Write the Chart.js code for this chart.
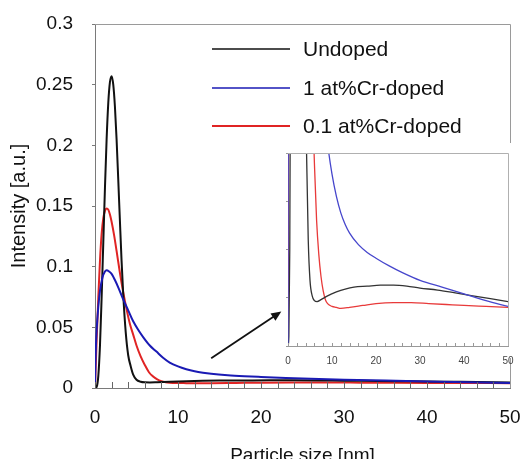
<!DOCTYPE html>
<html>
<head>
<meta charset="utf-8">
<script src="https://cdn.jsdelivr.net/npm/chart.js@4/dist/chart.umd.min.js"></script>
<style>
  html, body { margin: 0; padding: 0; background: #fff; }
  #wrap { position: relative; width: 524px; height: 459px; overflow: hidden; }
  #main { position: absolute; left: 0; top: 0; }
  #inset { position: absolute; left: 284px; top: 143px; }
</style>
</head>
<body>
<div id="wrap">
  <canvas id="main" width="524" height="459"></canvas>
  <canvas id="inset" width="232" height="229"></canvas>
</div>
<script>
// ---------- data ----------
const seriesLabels = ['Undoped', '1 at%Cr-doped', '0.1 at%Cr-doped'];

const undopedX = [0, 0.2, 0.4, 0.6, 0.8, 1.0, 1.2, 1.4, 1.6, 1.8, 2.0, 2.2, 2.4, 2.6, 2.8, 3.0, 3.2, 3.4, 3.7, 4.0, 4.3, 4.6, 5.0, 5.5, 6.0, 6.6, 7.5, 9, 11, 13, 15, 18, 21, 24, 27, 30, 34, 38, 42, 46, 50];
const undopedY = [0, 0.001, 0.01, 0.035, 0.075, 0.12, 0.165, 0.205, 0.235, 0.252, 0.257, 0.250, 0.232, 0.205, 0.172, 0.138, 0.105, 0.077, 0.046, 0.027, 0.018, 0.011, 0.0068, 0.0052, 0.0047, 0.0046, 0.0048, 0.0052, 0.0056, 0.0059, 0.0061, 0.0062, 0.0063, 0.0063, 0.0062, 0.0060, 0.0058, 0.0055, 0.0052, 0.0049, 0.0046];

const dopedHighX = [0, 0.05, 0.1, 0.2, 0.4, 0.6, 0.9, 1.2, 1.4, 1.7, 2.0, 2.4, 2.8, 3.4, 4.0, 4.6, 5.2, 5.8, 6.6, 7.4, 8.2, 9.0, 10, 11, 12, 13, 14, 16, 18, 20, 23, 26, 30, 35, 40, 45, 50];
const dopedHighY = [0, 0.02, 0.032, 0.048, 0.067, 0.080, 0.091, 0.096, 0.097, 0.096, 0.094, 0.089, 0.083, 0.073, 0.064, 0.055, 0.048, 0.042, 0.035, 0.030, 0.025, 0.021, 0.0178, 0.0155, 0.0138, 0.0126, 0.0117, 0.0105, 0.0097, 0.0091, 0.0083, 0.0076, 0.0068, 0.0061, 0.0054, 0.0047, 0.0041];

const dopedLowX = [0, 0.1, 0.2, 0.4, 0.6, 0.8, 1.0, 1.2, 1.4, 1.6, 1.8, 2.0, 2.3, 2.6, 3.0, 3.4, 3.8, 4.2, 4.6, 5.0, 5.5, 6.0, 6.5, 7.0, 7.5, 8.0, 8.5, 9.0, 10, 11, 12, 14, 17, 20, 24, 28, 32, 36, 40, 45, 50];
const dopedLowY = [0, 0.02, 0.04, 0.075, 0.105, 0.127, 0.140, 0.146, 0.148, 0.147, 0.143, 0.137, 0.126, 0.113, 0.095, 0.079, 0.065, 0.053, 0.044, 0.035, 0.026, 0.019, 0.013, 0.0095, 0.0072, 0.0057, 0.0048, 0.0044, 0.0041, 0.0040, 0.0039, 0.0040, 0.0042, 0.0044, 0.0045, 0.0045, 0.0044, 0.0043, 0.0042, 0.0041, 0.0040];

const xTickLabels = ['0', '10', '20', '30', '40', '50'];
const yTickLabels = ['0', '0.05', '0.1', '0.15', '0.2', '0.25', '0.3'];
const insetXTickLabels = ['0', '10', '20', '30', '40', '50'];

// arrow annotation (data units of main chart)
const arrowFrom = [14.0, 0.0245];
const arrowTo = [22.45, 0.063];

// ---------- helpers ----------
function pts(xs, ys) { return xs.map((x, i) => ({ x: x, y: ys[i] })); }
const colors = ['#111111', '#1a1ab4', '#e02424'];
const insetColors = ['#333333', '#4646cc', '#e83a3a'];
const FONT = 'Liberation Sans, Arial, Helvetica, sans-serif';

function makeDatasets(cols, width) {
  return [
    { label: seriesLabels[0], data: pts(undopedX, undopedY), borderColor: cols[0], order: 1 },
    { label: seriesLabels[1], data: pts(dopedHighX, dopedHighY), borderColor: cols[1], order: 0 },
    { label: seriesLabels[2], data: pts(dopedLowX, dopedLowY), borderColor: cols[2], order: 2 }
  ].map(d => Object.assign(d, {
    borderWidth: width, pointRadius: 0, fill: false,
    cubicInterpolationMode: 'monotone'
  }));
}

function fixX(h) { return s => { s.height = h; s.paddingLeft = 0; s.paddingRight = 0; }; }
function fixY(w) { return s => { s.width = w; s.paddingTop = 0; s.paddingBottom = 0; }; }

const innerTicks = {
  id: 'innerTicks',
  afterDraw(chart, args, opts) {
    const ctx = chart.ctx, xs = chart.scales.x, b = chart.chartArea.bottom;
    ctx.save();
    ctx.strokeStyle = opts.color; ctx.lineWidth = 1;
    xs.ticks.forEach(t => {
      const px = Math.round(xs.getPixelForValue(t.value)) + 0.5;
      ctx.beginPath(); ctx.moveTo(px, b); ctx.lineTo(px, b - opts.len); ctx.stroke();
    });
    ctx.restore();
  }
};

const frame = {
  id: 'frame',
  afterDraw(chart, args, opts) {
    const ctx = chart.ctx, a = chart.chartArea;
    ctx.save();
    ctx.strokeStyle = opts.color; ctx.lineWidth = 1;
    ctx.beginPath();
    ctx.moveTo(a.left, Math.round(a.top) + 0.5);
    ctx.lineTo(Math.round(a.right) + 0.5, Math.round(a.top) + 0.5);
    ctx.lineTo(Math.round(a.right) + 0.5, a.bottom);
    ctx.stroke();
    ctx.restore();
  }
};

const legendPlugin = {
  id: 'customLegend',
  afterDraw(chart) {
    const ctx = chart.ctx;
    const rows = [49, 88, 126];
    const widths = [1.4, 1.4, 2];
    ctx.save();
    chart.data.datasets.forEach((ds, i) => {
      ctx.strokeStyle = ds.borderColor; ctx.lineWidth = widths[i];
      ctx.beginPath(); ctx.moveTo(212, rows[i]); ctx.lineTo(290, rows[i]); ctx.stroke();
      ctx.fillStyle = '#111';
      ctx.font = '21px ' + FONT;
      ctx.textBaseline = 'middle'; ctx.textAlign = 'left';
      ctx.fillText(ds.label, 303, rows[i] + 1);
    });
    ctx.restore();
  }
};

const arrowPlugin = {
  id: 'arrow',
  afterDraw(chart) {
    const ctx = chart.ctx, xs = chart.scales.x, ys = chart.scales.y;
    const x1 = xs.getPixelForValue(arrowFrom[0]), y1 = ys.getPixelForValue(arrowFrom[1]);
    const x2 = xs.getPixelForValue(arrowTo[0]), y2 = ys.getPixelForValue(arrowTo[1]);
    const ang = Math.atan2(y2 - y1, x2 - x1), hl = 11, hw = 0.42;
    ctx.save();
    ctx.strokeStyle = '#111'; ctx.fillStyle = '#111'; ctx.lineWidth = 1.8;
    ctx.beginPath();
    ctx.moveTo(x1, y1);
    ctx.lineTo(x2 - (hl - 2) * Math.cos(ang), y2 - (hl - 2) * Math.sin(ang));
    ctx.stroke();
    ctx.beginPath();
    ctx.moveTo(x2, y2);
    ctx.lineTo(x2 - hl * Math.cos(ang - hw), y2 - hl * Math.sin(ang - hw));
    ctx.lineTo(x2 - hl * Math.cos(ang + hw), y2 - hl * Math.sin(ang + hw));
    ctx.closePath(); ctx.fill();
    ctx.restore();
  }
};

const whiteBack = {
  id: 'whiteBack',
  beforeDraw(chart, args, opts) {
    const ctx = chart.ctx;
    ctx.save(); ctx.fillStyle = '#fff';
    ctx.fillRect(0, 0, chart.width, opts.h);
    ctx.restore();
  }
};

// ---------- main chart ----------
new Chart(document.getElementById('main'), {
  type: 'line',
  data: { datasets: makeDatasets(colors, 2) },
  options: {
    responsive: false, animation: false, devicePixelRatio: 1,
    layout: { padding: { top: 24, right: 14, left: 0, bottom: 0 } },
    plugins: {
      legend: { display: false }, tooltip: { enabled: false },
      innerTicks: { color: '#666', len: 6 },
      frame: { color: '#9a9a9a' }
    },
    scales: {
      x: {
        type: 'linear', min: 0, max: 50,
        afterFit: fixX(71),
        grid: { display: true, drawOnChartArea: false, drawTicks: false },
        border: { color: '#7a7a7a', width: 1 },
        ticks: {
          stepSize: 2, autoSkip: false, maxRotation: 0, padding: 18,
          color: '#111', font: { family: FONT, size: 19 },
          callback: v => (v % 10 === 0 ? xTickLabels[v / 10] : '')
        },
        title: {
          display: true, text: 'Particle size [nm]', color: '#111',
          font: { family: FONT, size: 19 }, padding: { top: 0, bottom: -8 }
        }
      },
      y: {
        type: 'linear', min: 0, max: 0.3,
        afterFit: fixY(95),
        grid: { drawOnChartArea: false, drawTicks: true, tickLength: 3, color: '#7a7a7a' },
        border: { color: '#7a7a7a', width: 1 },
        ticks: {
          stepSize: 0.05, padding: 19, color: '#111',
          font: { family: FONT, size: 19 },
          callback: (v, i) => yTickLabels[i]
        },
        title: {
          display: true, text: 'Intensity [a.u.]', color: '#111',
          font: { family: FONT, size: 20 }, padding: { top: 7, bottom: 0 }
        }
      }
    }
  },
  plugins: [innerTicks, frame, legendPlugin, arrowPlugin]
});

// ---------- inset chart ----------
new Chart(document.getElementById('inset'), {
  type: 'line',
  data: { datasets: makeDatasets(insetColors, 1.3) },
  options: {
    responsive: false, animation: false, devicePixelRatio: 1,
    layout: { padding: { top: 10, right: 8, left: 0, bottom: 0 } },
    plugins: {
      legend: { display: false }, tooltip: { enabled: false },
      innerTicks: { color: '#999', len: 3 },
      frame: { color: '#b0b0b0' },
      whiteBack: { h: 215 }
    },
    scales: {
      x: {
        type: 'linear', min: 0, max: 50,
        afterFit: fixX(26),
        grid: { display: true, drawOnChartArea: false, drawTicks: false },
        border: { color: '#999', width: 1 },
        ticks: {
          stepSize: 2, autoSkip: false, maxRotation: 0, padding: 9,
          color: '#444', font: { family: FONT, size: 10 },
          callback: v => (v % 10 === 0 ? insetXTickLabels[v / 10] : '')
        }
      },
      y: {
        type: 'linear', min: 0, max: 0.02,
        afterFit: fixY(4),
        grid: { drawOnChartArea: false, drawTicks: true, tickLength: 2, color: '#999' },
        border: { color: '#999', width: 1 },
        ticks: { stepSize: 0.005, display: false }
      }
    }
  },
  plugins: [whiteBack, innerTicks, frame]
});
</script>
</body>
</html>
